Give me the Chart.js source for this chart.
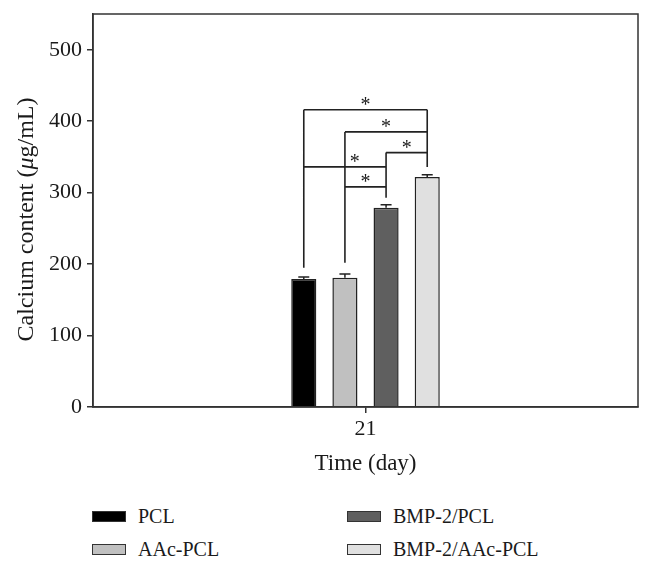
<!DOCTYPE html>
<html>
<head>
<meta charset="utf-8">
<title>Calcium content</title>
<script src="https://cdn.jsdelivr.net/npm/chart.js@4.4.1/dist/chart.umd.min.js"></script>
<style>
    html, body { margin: 0; padding: 0; background: #fff; }
    #wrap { position: relative; width: 653px; height: 562px; overflow: hidden; }
    #chartBox { position: absolute; left: 0; top: 0; width: 653px; height: 482px; }
    .legend-item {
        position: absolute; display: flex; align-items: center; height: 24px;
        font: 20px "Liberation Serif", serif; color: #1a1a1a; white-space: nowrap;
    }
    .legend-swatch { width: 34px; height: 11px; box-sizing: border-box; border: 1px solid #333; margin-right: 12px; }
</style>
</head>
<body>
<div id="wrap">
    <div id="chartBox"><canvas id="calciumChart"></canvas></div>
    <div id="legend"></div>
</div>
<script>
// ---- datos ----
const days = ['21'];
const groups = ['PCL', 'AAc-PCL', 'BMP-2/PCL', 'BMP-2/AAc-PCL'];
const calcium = [179, 181, 279, 322];
const calciumSd = [3, 5, 4, 3];
const yTicks = [0, 100, 200, 300, 400, 500];
// brackets de significancia: [grupo desde, grupo hasta, altura en µg/mL]
const brackets = [[0, 3, 416], [1, 3, 385], [2, 3, 356], [0, 2, 336], [1, 2, 308]];
// hasta dónde baja la línea vertical de cada grupo
const bracketFoot = [195, 202, 293, 336];

const fills = ['#000000', '#c0c0c0', '#5f5f5f', '#e0e0e0'];
const ink = '#1a1a1a';
const serif = '"Liberation Serif", "Times New Roman", serif';

// marco completo alrededor del área
const framePlugin = {
    id: 'frame',
    afterDraw(chart) {
        const { ctx, chartArea: a } = chart;
        ctx.save();
        ctx.strokeStyle = '#333';
        ctx.lineWidth = 1.5;
        ctx.strokeRect(a.left, a.top, a.right - a.left, a.bottom - a.top);
        ctx.restore();
    }
};

// barras de error (solo hacia arriba)
const errorBarPlugin = {
    id: 'errorBars',
    afterDatasetsDraw(chart) {
        const { ctx } = chart;
        const y = chart.scales.y;
        ctx.save();
        ctx.strokeStyle = '#222';
        ctx.lineWidth = 1.5;
        ctx.beginPath();
        groups.forEach((g, i) => {
            const bar = chart.getDatasetMeta(i).data[0];
            const top = y.getPixelForValue(calcium[i] + calciumSd[i]);
            ctx.moveTo(bar.x, bar.y);
            ctx.lineTo(bar.x, top);
            ctx.moveTo(bar.x - 5.5, top);
            ctx.lineTo(bar.x + 5.5, top);
        });
        ctx.stroke();
        ctx.restore();
    }
};

// brackets con asteriscos
const starAt = [0.5, 0.5, 0.5, 0.62, 0.5];
const bracketPlugin = {
    id: 'brackets',
    afterDatasetsDraw(chart) {
        const { ctx } = chart;
        const y = chart.scales.y;
        const xOf = i => chart.getDatasetMeta(i).data[0].x;
        ctx.save();
        ctx.strokeStyle = '#222';
        ctx.lineWidth = 1.6;
        ctx.beginPath();
        groups.forEach((g, i) => {
            const levels = brackets.filter(b => b[0] === i || b[1] === i).map(b => b[2]);
            if (!levels.length) return;
            ctx.moveTo(xOf(i), y.getPixelForValue(Math.max(...levels)));
            ctx.lineTo(xOf(i), y.getPixelForValue(bracketFoot[i]));
        });
        brackets.forEach(b => {
            const py = y.getPixelForValue(b[2]);
            ctx.moveTo(xOf(b[0]), py);
            ctx.lineTo(xOf(b[1]), py);
        });
        ctx.stroke();
        ctx.fillStyle = ink;
        ctx.font = '20px ' + serif;
        ctx.textAlign = 'center';
        ctx.textBaseline = 'alphabetic';
        brackets.forEach((b, k) => {
            const x0 = xOf(b[0]), x1 = xOf(b[1]);
            ctx.fillText('*', x0 + (x1 - x0) * starAt[k], y.getPixelForValue(b[2]) + 1);
        });
        ctx.restore();
    }
};

// título del eje Y con la µ en cursiva
const yTitlePlugin = {
    id: 'yTitle',
    afterDraw(chart) {
        const { ctx, chartArea: a } = chart;
        const parts = [['Calcium content (', 'normal'], ['\u03bc', 'italic'], ['g/mL)', 'normal']];
        ctx.save();
        ctx.fillStyle = ink;
        ctx.textBaseline = 'middle';
        ctx.textAlign = 'left';
        let total = 0;
        parts.forEach(p => { ctx.font = p[1] + ' 24px ' + serif; total += ctx.measureText(p[0]).width; });
        ctx.translate(27, (a.top + a.bottom) / 2 + 9);
        ctx.rotate(-Math.PI / 2);
        let x = -total / 2;
        parts.forEach(p => {
            ctx.font = p[1] + ' 24px ' + serif;
            ctx.fillText(p[0], x, 0);
            x += ctx.measureText(p[0]).width;
        });
        ctx.restore();
    }
};

function renderChart() {
    const ctx = document.getElementById('calciumChart').getContext('2d');

    new Chart(ctx, {
        type: 'bar',
        data: {
            labels: days,
            datasets: groups.map((g, i) => ({
                label: g,
                data: [calcium[i]],
                backgroundColor: fills[i],
                borderColor: '#222',
                borderWidth: 1.5,
                categoryPercentage: 0.302,
                barPercentage: 0.61
            }))
        },
        options: {
            responsive: true,
            maintainAspectRatio: false,
            animation: false,
            layout: { padding: { top: 14, right: 15, left: 0, bottom: 0 } },
            plugins: {
                legend: { display: false },
                tooltip: { enabled: false }
            },
            scales: {
                x: {
                    grid: { display: true, drawOnChartArea: false, offset: false, tickLength: 6, color: '#333', lineWidth: 1.5 },
                    border: { display: true, color: '#333', width: 1.5 },
                    ticks: { color: ink, font: { family: serif, size: 22 }, padding: 3 },
                    title: { display: true, text: 'Time (day)', color: ink, font: { family: serif, size: 23 } },
                    afterFit: s => { s.height = 75; s.paddingLeft = 0; s.paddingRight = 0; }
                },
                y: {
                    min: 0,
                    max: 550,
                    afterBuildTicks: s => { s.ticks = yTicks.map(v => ({ value: v })); },
                    grid: { display: true, drawOnChartArea: false, tickLength: 6, color: '#333', lineWidth: 1.5 },
                    border: { display: true, color: '#333', width: 1.5 },
                    ticks: { color: ink, font: { family: serif, size: 22 }, padding: 5 },
                    afterFit: s => { s.width = 93; s.paddingTop = 0; s.paddingBottom = 0; }
                }
            }
        },
        plugins: [framePlugin, errorBarPlugin, bracketPlugin, yTitlePlugin]
    });
}

function renderLegend() {
    const box = document.getElementById('legend');
    const cols = [92, 347];
    const rows = [504, 537];
    box.innerHTML = groups.map((g, i) => `
        <div class="legend-item" style="left:${cols[Math.floor(i / 2)]}px; top:${rows[i % 2]}px;">
            <span class="legend-swatch" style="background:${fills[i]};"></span>${g}
        </div>`).join('');
}

document.addEventListener('DOMContentLoaded', function () {
    renderChart();
    renderLegend();
});
</script>
</body>
</html>
